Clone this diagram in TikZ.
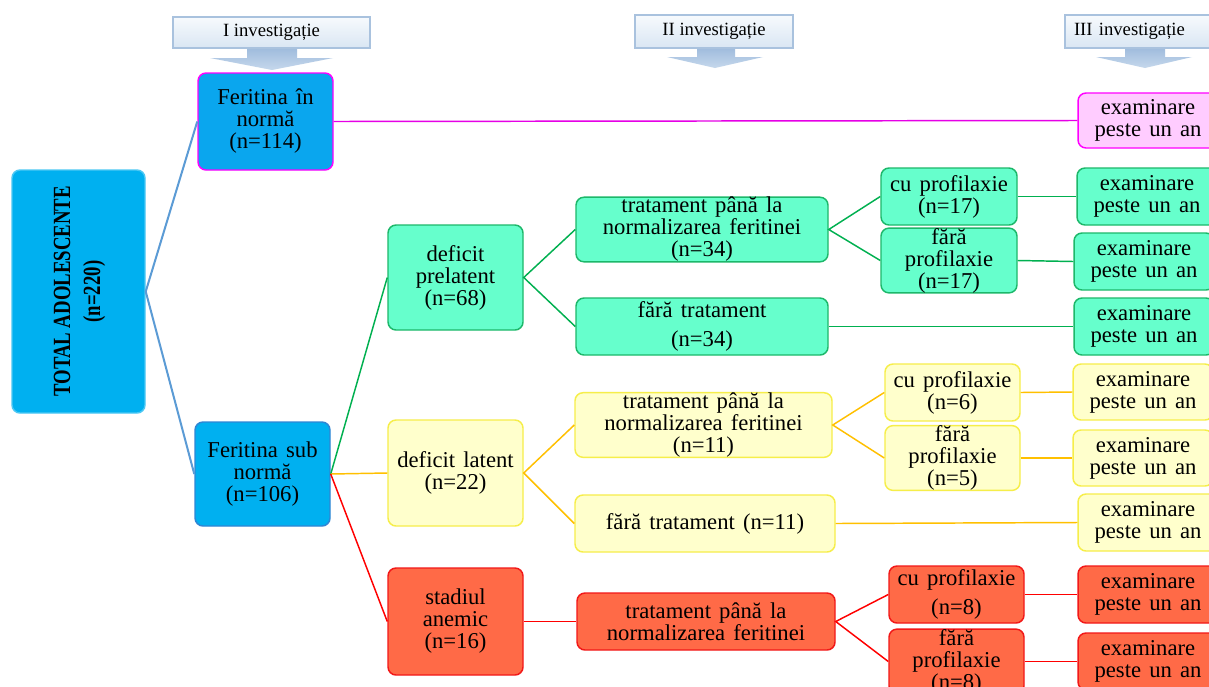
\documentclass[tikz,border=0pt]{standalone}
\usepackage{fontspec}
\setmainfont{Liberation Serif}
\usepackage{graphicx}
\definecolor{totfill}{HTML}{00B0F0}
\definecolor{normfill}{HTML}{0AA6EE}
\definecolor{subdraw}{HTML}{2F86D4}
\definecolor{gfill}{HTML}{66FFCC}
\definecolor{gdraw}{HTML}{1DB86A}
\definecolor{yfill}{HTML}{FFFFCC}
\definecolor{ydraw}{HTML}{F6EE4A}
\definecolor{rfill}{HTML}{FF6A47}
\definecolor{rdraw}{HTML}{F21818}
\definecolor{mfill}{HTML}{FFCCFF}
\definecolor{mdraw}{HTML}{FF00FF}
\definecolor{bluel}{HTML}{5B9BD5}
\definecolor{magl}{HTML}{E600E6}
\definecolor{greenl}{HTML}{00B050}
\definecolor{orangel}{HTML}{FFC000}
\definecolor{redl}{HTML}{FF0000}
\definecolor{hdrtop}{HTML}{F7FAFD}
\definecolor{hdrbot}{HTML}{D9E6F3}
\definecolor{hdrdraw}{HTML}{A9C2DE}
\definecolor{arrtop}{HTML}{9DBADC}
\definecolor{arrbot}{HTML}{C6D8EC}
\newcommand\boxfont{\fontsize{17}{16.5}\selectfont\spaceskip=0.36em plus 0.1em\relax}
\newcommand\hdrfont{\fontsize{14}{15}\selectfont}
\begin{document}
\begin{tikzpicture}[x=0.75pt,y=-0.75pt,
  box/.style={draw, rounded corners=6pt, line width=1.1pt, align=center, inner sep=0pt, font=\boxfont},
  sz/.style 2 args={minimum width=#1*0.75pt, minimum height=#2*0.75pt},
  tbox/.style={box, fill=totfill, draw=totfill!70!white},
  nbox/.style={box, fill=normfill, draw=mdraw},
  sbox/.style={box, fill=totfill, draw=subdraw},
  gbox/.style={box, fill=gfill, draw=gdraw},
  ybox/.style={box, fill=yfill, draw=ydraw},
  rbox/.style={box, fill=rfill, draw=rdraw},
  mbox/.style={box, fill=mfill, draw=mdraw},
  hdr/.style={draw=hdrdraw, line width=0.8pt, top color=hdrtop, bottom color=hdrbot, inner sep=0pt, font=\hdrfont},
  harrow/.style={top color=arrtop, bottom color=arrbot, draw=none},
  bl/.style={draw=bluel, line width=1.5pt},
  ml/.style={draw=magl, line width=1.1pt},
  gl/.style={draw=greenl, line width=1.1pt},
  ol/.style={draw=orangel, line width=1.1pt},
  rl/.style={draw=redl, line width=1.1pt}]
\useasboundingbox (0,0) rectangle (1209,686);
\clip (0,0) rectangle (1209,686);
\fill[white] (0,0) rectangle (1209,686);

% header arrows
\shade[harrow] (247,47) -- (297,47) -- (297,58) -- (333,58) -- (272,70) -- (210,58) -- (247,58) -- cycle;
\node[hdr, sz={197}{31}] (h1) at (271.5,32.5) {I investigație};
\shade[harrow] (697,47) -- (735,47) -- (735,57) -- (763,57) -- (715,68) -- (667,57) -- (697,57) -- cycle;
\node[hdr, sz={158}{33}] (h2) at (714,31.5) {II investigație};
\shade[harrow] (1125,47) -- (1165,47) -- (1165,57) -- (1192,57) -- (1145,68) -- (1096,57) -- (1125,57) -- cycle;
\node[hdr, sz={160}{33}, text width=142*0.75pt, align=left] (h3) at (1145,31.5) {III investigație};

% main boxes
\node[tbox, sz={133}{243}] (tot) at (78.5,291.5) {};
\node[rotate=90] (totl) at (79,291.5) {\scalebox{0.76}[1]{\bfseries\fontsize{18.5}{22.5}\selectfont\begin{tabular}{@{}c@{}}TOTAL ADOLESCENTE\\(n=220)\end{tabular}}};
\node[nbox, sz={135}{97}] (fn) at (265.5,121.5) {Feritina în\\normă\\(n=114)};
\node[sbox, sz={135}{104}] (fs) at (262.5,474) {Feritina sub\\normă\\(n=106)};

\node[gbox, sz={135}{105}] (dp) at (455.5,277.5) {deficit\\prelatent\\(n=68)};
\node[ybox, sz={135}{106}] (dl) at (455.5,473) {deficit latent\\(n=22)};
\node[rbox, sz={135}{107}] (sa) at (455.5,621.5) {stadiul\\anemic\\(n=16)};

\node[gbox, sz={252}{55}] (t1) at (702,229.5) {tratament până la\\normalizarea feritinei\\(n=34)};
\node[gbox, sz={252}{57}] (f1) at (702,326.5) {fără tratament\\[5pt](n=34)};
\node[ybox, sz={257}{56}] (t2) at (703.5,425) {tratament până la\\normalizarea feritinei\\(n=11)};
\node[ybox, sz={260}{57}] (f2) at (705,523.5) {fără tratament (n=11)};
\node[rbox, sz={258}{57}] (t3) at (706,621.5) {tratament până la\\normalizarea feritinei};

\node[gbox, sz={136}{57}] (cp1) at (949,196.5) {cu profilaxie\\(n=17)};
\node[gbox, sz={136}{57}] (fp1) at (949,260.5) {fără\\profilaxie\\(n=17)};
\node[ybox, sz={135}{57}] (cp2) at (952.5,392.5) {cu profilaxie\\(n=6)};
\node[ybox, sz={135}{56}] (fp2) at (952.5,458) {fără\\profilaxie\\(n=5)};
\node[rbox, sz={135}{57}] (cp3) at (956.5,594.5) {cu profilaxie\\[5pt](n=8)};
\node[rbox, sz={135}{57}] (fp3) at (956.5,661.5) {fără\\profilaxie\\(n=8)};

\node[mbox, sz={140}{55}] (e0) at (1148,120.5) {examinare\\peste un an};
\node[gbox, sz={140}{57}] (e1) at (1147,196.5) {examinare\\peste un an};
\node[gbox, sz={140}{57}] (e2) at (1144,261.5) {examinare\\peste un an};
\node[gbox, sz={140}{57}] (e3) at (1144,326.5) {examinare\\peste un an};
\node[ybox, sz={140}{56}] (e4) at (1143,392) {examinare\\peste un an};
\node[ybox, sz={140}{56}] (e5) at (1143,458) {examinare\\peste un an};
\node[ybox, sz={140}{57}] (e6) at (1148,522.5) {examinare\\peste un an};
\node[rbox, sz={140}{57}] (e7) at (1148,594.5) {examinare\\peste un an};
\node[rbox, sz={140}{57}] (e8) at (1148,661.5) {examinare\\peste un an};

% connectors
\draw[bl] (fn.west) -- (tot.east) -- (fs.west);
\draw[ml] (fn.east) -- (e0.west);
\draw[gl] (fs.east) -- (dp.west);
\draw[ol] (fs.east) -- (dl.west);
\draw[rl] (fs.east) -- (sa.west);
\draw[gl] (t1.west) -- (dp.east) -- (f1.west);
\draw[gl] (cp1.west) -- (t1.east) -- (fp1.west);
\draw[gl] (cp1.east) -- (e1.west);
\draw[gl] (fp1.east) -- (e2.west);
\draw[gl] (f1.east) -- (e3.west);
\draw[ol] (t2.west) -- (dl.east) -- (f2.west);
\draw[ol] (cp2.west) -- (t2.east) -- (fp2.west);
\draw[ol] (cp2.east) -- (e4.west);
\draw[ol] (fp2.east) -- (e5.west);
\draw[ol] (f2.east) -- (e6.west);
\draw[rl] (sa.east) -- (t3.west);
\draw[rl] (cp3.west) -- (t3.east) -- (fp3.west);
\draw[rl] (cp3.east) -- (e7.west);
\draw[rl] (fp3.east) -- (e8.west);
\end{tikzpicture}
\end{document}
